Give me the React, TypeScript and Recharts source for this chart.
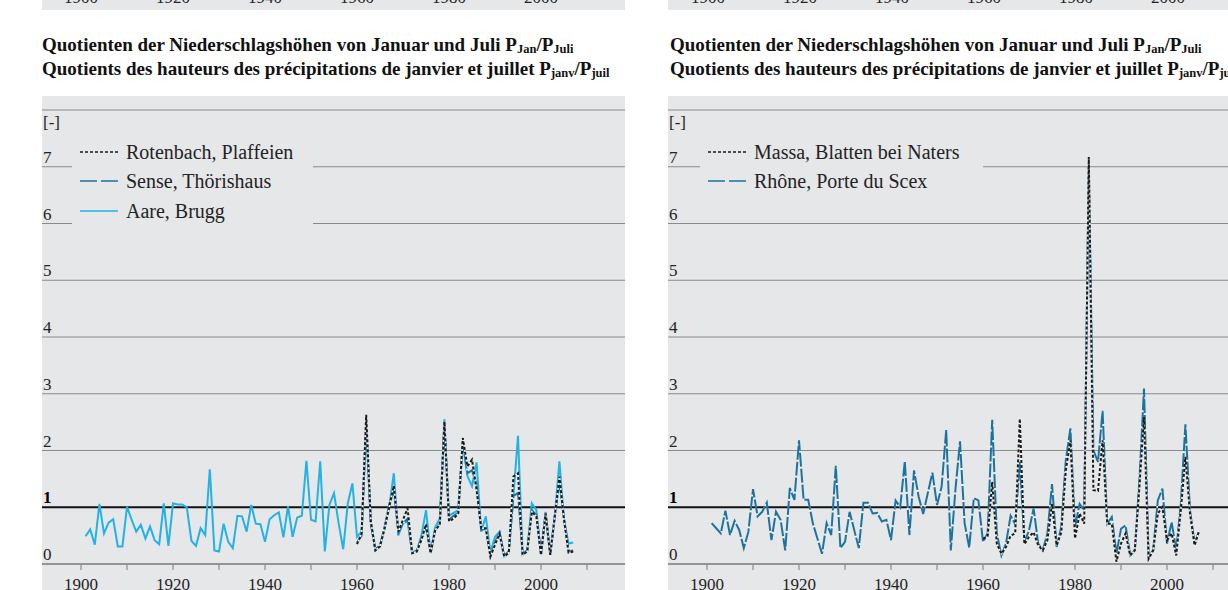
import React from 'react';
import { LineChart, Line, XAxis, YAxis, ReferenceLine, Legend } from 'recharts';

// yearly quotients P(Jan)/P(Juli)
const FIRST_YEAR = 1901;
const LAST_YEAR = 2007;
const GAUGE_START = 1960;

const aareBrugg = [
  0.49, 0.61, 0.34, 1.06, 0.54, 0.73, 0.79, 0.31, 0.31, 1.01,
  0.78, 0.57, 0.69, 0.45, 0.66, 0.42, 0.35, 1.07, 0.32, 1.07,
  1.05, 1.05, 1.0, 0.41, 0.32, 0.63, 0.51, 1.67, 0.24, 0.22,
  0.71, 0.39, 0.28, 0.85, 0.84, 0.57, 1.04, 0.71, 0.7, 0.39,
  0.79, 0.86, 0.91, 0.47, 1.02, 0.48, 0.82, 0.85, 1.82, 0.78,
  0.75, 1.81, 0.22, 1.04, 1.25, 0.72, 0.26, 1.07, 1.42, 0.48,
  0.57, 2.4, 0.75, 0.24, 0.31, 0.63, 1.0, 1.6, 0.51, 0.72,
  0.75, 0.19, 0.22, 0.5, 0.95, 0.19, 0.65, 0.8, 2.55, 0.85,
  0.9, 0.95, 2.13, 1.55, 1.37, 1.79, 0.57, 0.84, 0.2, 0.48,
  0.57, 0.13, 0.2, 1.2, 2.26, 0.16, 0.22, 1.07, 0.95, 0.16,
  0.92, 0.16, 0.84, 1.81, 0.78, 0.36, 0.38,
];

// from 1960
const senseThoerishaus = [
  0.38, 0.5, 2.5, 0.7, 0.26, 0.33, 0.65, 1.05, 1.3, 0.55,
  0.72, 0.8, 0.2, 0.24, 0.45, 0.66, 0.2, 0.6, 0.7, 2.45,
  0.78, 0.85, 0.9, 2.15, 1.6, 1.65, 1.4, 0.6, 0.62, 0.15,
  0.38, 0.55, 0.15, 0.22, 1.2, 1.25, 0.18, 0.24, 0.95, 0.86,
  0.18, 0.9, 0.17, 0.85, 1.45, 0.8, 0.22, 0.24,
];

const rotenbachPlaffeien = [
  0.35, 0.54, 2.63, 0.75, 0.24, 0.31, 0.63, 1.0, 1.38, 0.57,
  0.78, 0.98, 0.19, 0.22, 0.42, 0.7, 0.19, 0.6, 0.69, 2.51,
  0.75, 0.8, 0.89, 2.22, 1.72, 1.84, 1.3, 0.63, 0.63, 0.13,
  0.34, 0.53, 0.13, 0.2, 1.54, 1.6, 0.16, 0.22, 0.92, 0.84,
  0.16, 0.89, 0.16, 0.84, 1.54, 0.78, 0.2, 0.22,
];

const rhonePorteDuScex = [
  0.72, 0.63, 0.54, 0.94, 0.51, 0.76, 0.6, 0.28, 0.57, 1.32,
  0.84, 0.92, 1.08, 0.42, 0.92, 0.78, 0.24, 1.34, 1.13, 2.18,
  1.13, 1.13, 0.72, 0.45, 0.18, 0.72, 0.51, 1.73, 0.28, 0.39,
  0.92, 0.6, 0.28, 1.08, 1.08, 0.89, 0.9, 0.75, 0.78, 0.42,
  1.12, 1.0, 1.81, 0.51, 1.65, 1.19, 0.88, 1.25, 1.61, 1.04,
  1.36, 2.36, 0.24, 1.31, 2.16, 0.72, 0.29, 1.16, 1.12, 0.39,
  0.54, 2.54, 0.54, 0.15, 0.36, 0.85, 0.7, 1.8, 0.39, 0.59,
  0.98, 0.36, 0.24, 0.54, 1.41, 0.3, 0.65, 1.83, 2.39, 0.65,
  1.06, 0.95, 7.0, 2.0, 1.8, 2.7, 0.71, 0.83, 0.18, 0.62,
  0.68, 0.15, 0.24, 1.48, 3.09, 0.15, 0.24, 1.12, 1.33, 0.36,
  0.74, 0.24, 1.06, 2.46, 0.95, 0.36, 0.59,
];

// from 1960
const massaBlatten = [
  0.45, 0.48, 1.45, 0.36, 0.18, 0.3, 0.5, 0.54, 2.56, 0.35,
  0.48, 0.56, 0.33, 0.24, 0.42, 1.06, 0.33, 0.55, 1.65, 2.18,
  0.45, 0.89, 0.71, 7.17, 1.3, 1.29, 2.18, 0.71, 0.71, 0.04,
  0.36, 0.54, 0.15, 0.24, 1.36, 2.59, 0.09, 0.24, 0.89, 1.0,
  0.42, 0.54, 0.15, 0.95, 1.89, 0.89, 0.33, 0.59,
];

const yLabels = [0, 1, 2, 3, 4, 5, 6, 7];
const decadeTicks = [1900, 1910, 1920, 1930, 1940, 1950, 1960, 1970, 1980, 1990, 2000, 2010];
const labelledYears = [1900, 1920, 1940, 1960, 1980, 2000];

const BG = '#e6e7e9';
const GRID = '#8a8a8a';
const TEXT = '#232323';
const CYAN = '#23b2e6';
const TEAL = '#1d73a0';
const BLACK = '#1b1b1b';
const SERIF = '"Liberation Serif", "Times New Roman", serif';

const X_DOMAIN: [number, number] = [1891.52, 2018.26];

const years = Array.from({ length: LAST_YEAR - FIRST_YEAR + 1 }, (_, i) => FIRST_YEAR + i);
const fromGauge = (arr: number[], year: number) => (year >= GAUGE_START ? arr[year - GAUGE_START] : null);

const leftData = years.map((year, i) => ({
  year,
  aare: aareBrugg[i],
  sense: fromGauge(senseThoerishaus, year),
  rotenbach: fromGauge(rotenbachPlaffeien, year),
}));

const rightData = years.map((year, i) => ({
  year,
  rhone: rhonePorteDuScex[i],
  massa: fromGauge(massaBlatten, year),
}));

const YearTick = (props: any) => {
  const { x, y, payload } = props;
  if (!labelledYears.includes(payload.value)) return <g />;
  return (
    <text x={x} y={y + 18} textAnchor="middle" fontFamily={SERIF} fontSize={17} fill={TEXT}>
      {payload.value}
    </text>
  );
};

// value labels sit just above their grid line at the left edge of the plot
const ValueLabel = ({ viewBox, value }: any) => {
  const one = value === 1;
  return (
    <text x={viewBox.x + 1} y={viewBox.y - 4} textAnchor="start" fontFamily={SERIF} fontSize={17}
      fontWeight={one ? 'bold' : 'normal'} fill={one ? '#000' : TEXT}>
      {value}
    </text>
  );
};

const UnitLabel = ({ viewBox }: any) => (
  <text x={viewBox.x + 1} y={viewBox.y + 18} textAnchor="start" fontFamily={SERIF} fontSize={17} fill={TEXT}>
    [-]
  </text>
);

type LegendItem = { label: string; color: string; dash?: string };

const LegendBox = ({ items }: { items: LegendItem[] }) => (
  <div style={{ background: BG, paddingLeft: 8 }}>
    {items.map((it) => (
      <div key={it.label} style={{ display: 'flex', alignItems: 'center', height: 29.5 }}>
        <svg width={38} height={4} style={{ marginRight: 8, flex: 'none' }}>
          <line x1={0} y1={2} x2={38} y2={2} stroke={it.color} strokeWidth={1.6} strokeDasharray={it.dash} />
        </svg>
        <span style={{ fontFamily: SERIF, fontSize: 20, color: TEXT, whiteSpace: 'nowrap', lineHeight: '22px' }}>
          {it.label}
        </span>
      </div>
    ))}
  </div>
);

const leftLegend: LegendItem[] = [
  { label: 'Rotenbach, Plaffeien', color: BLACK, dash: '3 2' },
  { label: 'Sense, Thörishaus', color: TEAL, dash: '17 4' },
  { label: 'Aare, Brugg', color: CYAN },
];

const rightLegend: LegendItem[] = [
  { label: 'Massa, Blatten bei Naters', color: BLACK, dash: '3 2' },
  { label: 'Rhône, Porte du Scex', color: TEAL, dash: '17 4' },
];

function Panel({ data, series, legend, legendBox }: {
  data: any[];
  series: { key: string; color: string; dash?: string; underlay?: boolean }[];
  legend: LegendItem[];
  legendBox: { left: number; top: number; width: number; height: number };
}) {
  return (
    <LineChart width={640} height={590} data={data} margin={{ top: 110, right: 15, left: 42, bottom: 0 }}>
      <XAxis
        dataKey="year"
        type="number"
        domain={X_DOMAIN}
        allowDataOverflow
        ticks={decadeTicks}
        interval={0}
        height={26}
        tickSize={6}
        tickLine={{ stroke: GRID, strokeWidth: 1.2 }}
        axisLine={{ stroke: '#7a7a7a', strokeWidth: 1.4 }}
        tick={(p: any) => <YearTick {...p} />}
      />
      <YAxis type="number" domain={[0, 8]} width={0} axisLine={false} tickLine={false} tick={false} />
      <ReferenceLine y={8} stroke={GRID} strokeWidth={1.2} label={(p: any) => <UnitLabel viewBox={p.viewBox} />} />
      {yLabels.map((v) => (
        <ReferenceLine key={'grid' + v} y={v}
          stroke={v === 1 ? '#111' : v === 0 ? 'none' : GRID}
          strokeWidth={v === 1 ? 2 : 1.2}
          label={(p: any) => <ValueLabel viewBox={p.viewBox} value={v} />} />
      ))}
      {series.flatMap((s) => {
        const lines = [];
        if (s.underlay) {
          lines.push(
            <Line key={s.key + '-u'} dataKey={s.key} type="linear" stroke="#f4f4f4" strokeWidth={1.4}
              dot={false} activeDot={false} legendType="none" isAnimationActive={false} />
          );
        }
        lines.push(
          <Line key={s.key} dataKey={s.key} type="linear" stroke={s.color} strokeWidth={2}
            strokeDasharray={s.dash} dot={false} activeDot={false} isAnimationActive={false} />
        );
        return lines;
      })}
      <Legend
        layout="horizontal"
        verticalAlign="middle"
        align="center"
        wrapperStyle={{ ...legendBox, background: BG }}
        content={() => <LegendBox items={legend} />}
      />
    </LineChart>
  );
}

const Title = ({ left }: { left: number }) => {
  const sub: React.CSSProperties = { fontSize: 12.5, position: 'relative', top: 2 };
  return (
    <div style={{ position: 'absolute', left, top: 34, fontFamily: SERIF, fontWeight: 'bold', fontSize: 19,
      lineHeight: '21px', whiteSpace: 'nowrap', color: '#111' }}>
      <div>Quotienten der Niederschlagshöhen von Januar und Juli P<span style={sub}>Jan</span>/P<span style={sub}>Juli</span></div>
      <div>Quotients des hauteurs des précipitations de janvier et juillet P<span style={sub}>janv</span>/P<span style={sub}>juil</span></div>
    </div>
  );
};

// bottom sliver of the panels above (cut off by the crop, as in the reference)
const TopStrip = ({ left, width, origin }: { left: number; width: number; origin: number }) => (
  <svg style={{ position: 'absolute', left, top: 0 }} width={width} height={10}>
    <rect x={0} y={0} width={width} height={10} fill={BG} />
    {labelledYears.map((yr) => (
      <text key={yr} x={origin + (yr - 1900) * 4.6} y={3} textAnchor="middle" fontFamily={SERIF} fontSize={17} fill={TEXT}>
        {yr}
      </text>
    ))}
  </svg>
);

export default function App() {
  return (
    <div style={{ position: 'fixed', left: 0, top: 0, width: 1228, height: 590, overflow: 'hidden', background: '#fff' }}>
      <TopStrip left={42} width={583} origin={39} />
      <TopStrip left={668} width={560} origin={40} />
      <Title left={42} />
      <Title left={670} />
      <div style={{ position: 'absolute', left: 42, top: 96, width: 583, height: 494, background: BG }} />
      <div style={{ position: 'absolute', left: 668, top: 96, width: 560, height: 494, background: BG }} />
      <div style={{ position: 'absolute', left: 0, top: 0 }}>
        <Panel
          data={leftData}
          series={[
            { key: 'aare', color: CYAN },
            { key: 'sense', color: TEAL, dash: '14 2', underlay: true },
            { key: 'rotenbach', color: BLACK, dash: '3 2', underlay: true },
          ]}
          legend={leftLegend}
          legendBox={{ left: 72, top: 137, width: 241, height: 89 }}
        />
      </div>
      <div style={{ position: 'absolute', left: 626, top: 0 }}>
        <Panel
          data={rightData}
          series={[
            { key: 'rhone', color: TEAL, dash: '14 2', underlay: true },
            { key: 'massa', color: BLACK, dash: '3 2', underlay: true },
          ]}
          legend={rightLegend}
          legendBox={{ left: 74, top: 137, width: 283, height: 59 }}
        />
      </div>
    </div>
  );
}
